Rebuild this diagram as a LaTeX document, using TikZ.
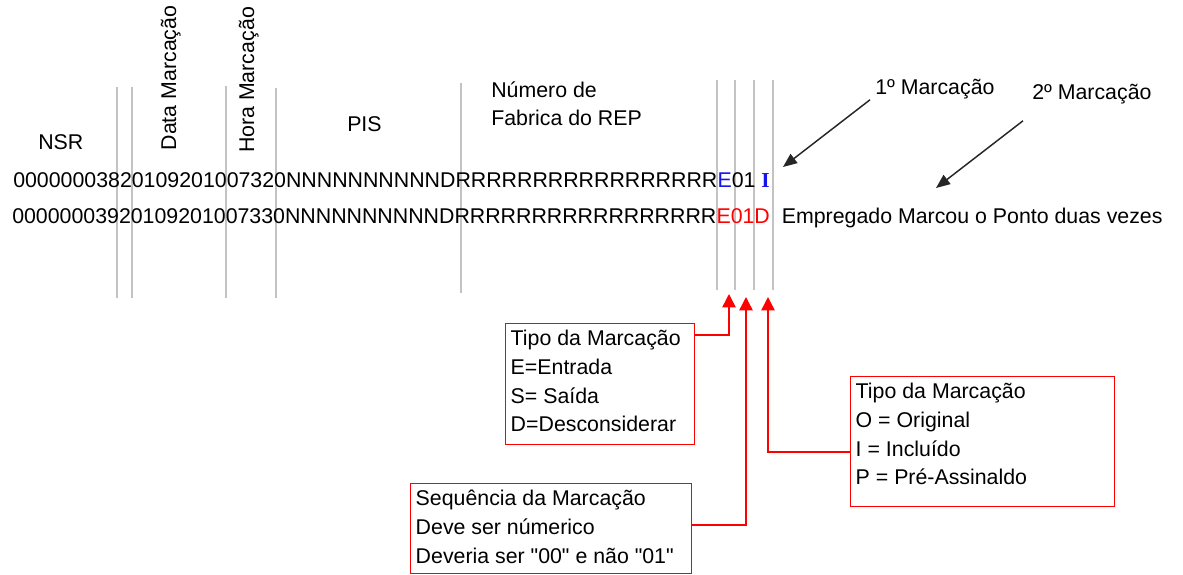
\documentclass[tikz,border=0pt]{standalone}
\usepackage{fontspec}
\setmainfont{Liberation Sans}
\newfontfamily\rawsans{Liberation Sans}
\newfontfamily\serifI{Liberation Serif}
\usetikzlibrary{arrows.meta}
\usetikzlibrary{calc}

\definecolor{gridgray}{RGB}{195,195,195}
\definecolor{markblue}{RGB}{20,20,235}

\begin{document}
\begin{tikzpicture}[x=0.75pt, y=-0.75pt,
    font=\fontsize{16}{21}\selectfont,
    txt/.style={inner sep=0pt},
    colsep/.style={gridgray, line width=1.1pt},
    infobox/.style={draw=red, line width=1.1pt, inner xsep=3.75pt, inner ysep=5pt, anchor=north west, font=\fontsize{16}{21.5}\selectfont},
    redarrow/.style={red, line width=1.1pt, -{Triangle[length=10pt,width=10pt]}},
    blackarrow/.style={black!85, line width=1.1pt, -{Triangle[length=10.5pt,width=8.5pt]}}]
  \useasboundingbox (0,0) rectangle (1183,575);

  % separadores das colunas
  \foreach \x/\t/\b in {117/87/298, 132/87/298, 226/86/298, 276/88/298, 461/83/293, 717/80/290, 735/80/290, 754/80/290, 773/80/290}
    \draw[colsep] (\x,\t) -- (\x,\b);

  % cabecalhos
  \node[txt, anchor=base west] (nsr) at (38,149) {NSR};
  \node[txt, anchor=base, rotate=90] (data) at (176,78) {Data Marcação};
  \node[txt, anchor=base, rotate=90] (hora) at (254,80) {Hora Marcação};
  \node[txt, anchor=base west] (pis) at (347,131) {PIS};
  \node[txt, anchor=west, align=left] (rep) at (491,104) {Número de\\Fabrica do REP};
  \node[txt, anchor=base west] (m1) at (875,94) {1º Marcação};
  \node[txt, anchor=base west] (m2) at (1032,99) {2º Marcação};

  % registros
  \node[txt, anchor=base west] (row1) at (13,187) {00000003820109201007320NNNNNNNNNNDRRRRRRRRRRRRRRRRR\textcolor{markblue}{E}01 \textcolor{markblue}{\serifI\bfseries I}};
  \node[txt, anchor=base west] (row2) at (12,223) {00000003920109201007330NNNNNNNNNNDRRRRRRRRRRRRRRRRR\textcolor{red}{E01D}\hspace{9pt}Empregado Marcou o Ponto duas vezes};

  \coordinate (aimI) at (783,167);
  \coordinate (aimEmp) at (936,188);
  \draw[blackarrow] ($(m1.south west)+(-5,1)$) -- (aimI);
  \draw[blackarrow] ($(m2.south west)+(-9,17)$) -- (aimEmp);

  % legendas
  \node[infobox] (tipoes) at (505,323) {\parbox[c][80.5pt][t]{134pt}{Tipo da Marcação\\E=Entrada\\S= Saída\\D=Desconsiderar}};
  \node[infobox] (seq) at (410,483) {\parbox[c][57.5pt][t]{203pt}{Sequência da Marcação\\Deve ser númerico\\{\rawsans Deveria ser "00" e não "01"}}};
  \node[infobox] (origem) at (850,376) {\parbox[c][87.5pt][t]{190.5pt}{Tipo da Marcação\\O = Original\\I = Incluído\\P = Pré-Assinaldo}};

  \coordinate (tipE) at (729,294);
  \coordinate (tipSeq) at (746,297);
  \coordinate (tipOrig) at (768,297);
  \draw[redarrow] ($(tipoes.north east)+(0,12)$) -| (tipE);
  \draw[redarrow] ($(seq.north east)+(0,42)$) -| (tipSeq);
  \draw[redarrow] ($(origem.north west)+(0,76)$) -| (tipOrig);
\end{tikzpicture}
\end{document}
